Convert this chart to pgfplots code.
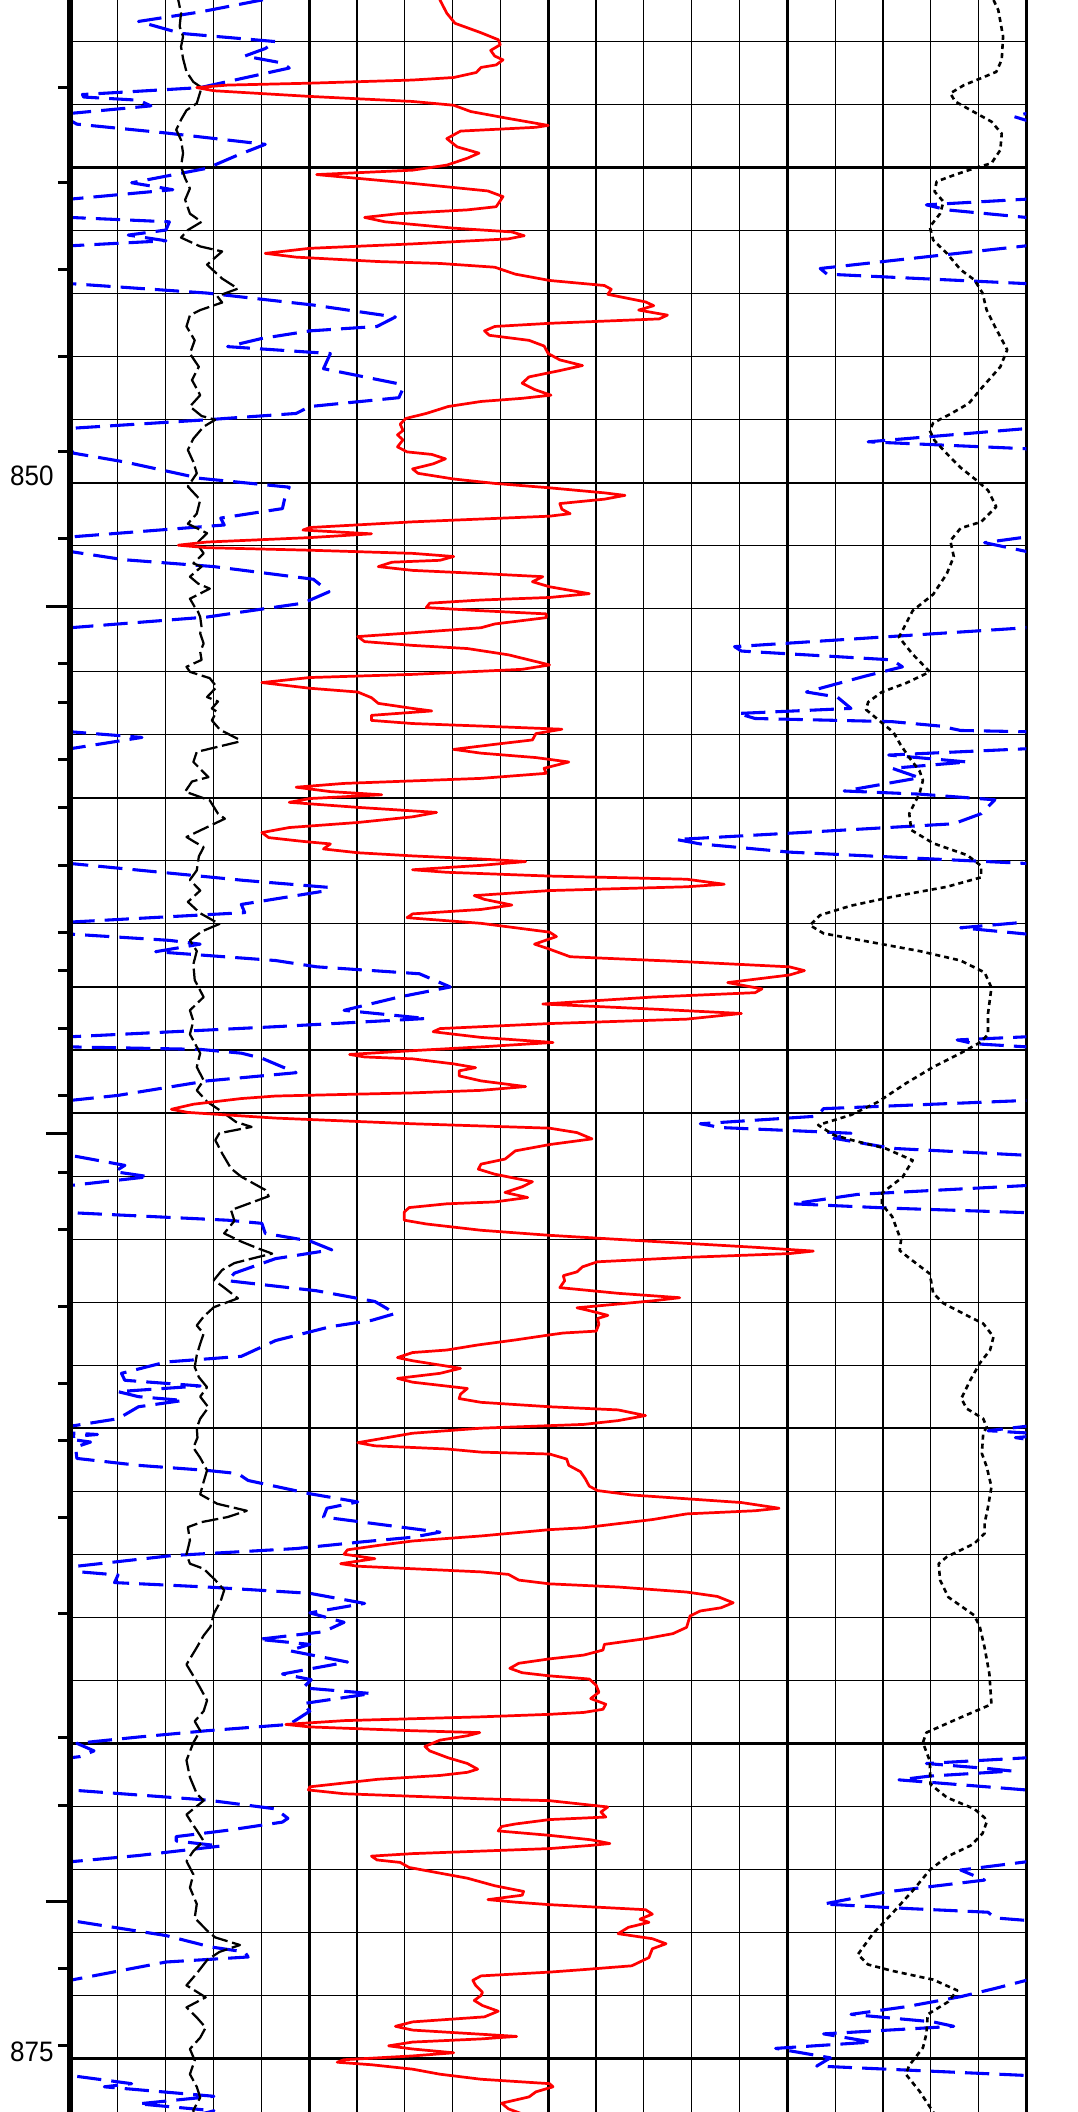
\documentclass[border=0pt]{standalone}
\usepackage{graphicx}
\usepackage{pgfplots}
\usepackage{pgfplotstable}
\pgfplotsset{compat=1.18}
\usepackage{fontspec}
\setmainfont{Liberation Sans}

\pgfplotstableread{
x d
535 842.20
540 842.34
550 842.55
562 842.71
600 842.86
625 842.97
628 843.05
614 843.14
620 843.23
632 843.29
622 843.37
600 843.41
593 843.49
560 843.57
500 843.61
350 843.66
230 843.69
185 843.73
210 843.78
350 843.87
500 843.95
560 844.01
585 844.11
640 844.22
698 844.33
680 844.36
570 844.42
550 844.54
565 844.67
597 844.77
580 844.85
550 844.96
500 845.04
420 845.08
360 845.11
420 845.17
500 845.25
610 845.37
632 845.46
622 845.62
580 845.67
480 845.73
430 845.79
460 845.86
560 845.96
645 846.02
663 846.08
640 846.13
500 846.21
350 846.28
285 846.36
330 846.42
450 846.49
540 846.52
620 846.58
650 846.69
700 846.79
780 846.87
790 846.93
785 847.01
840 847.13
852 847.19
830 847.26
872 847.34
860 847.40
700 847.47
620 847.52
605 847.59
612 847.66
670 847.74
692 847.83
698 847.95
715 848.05
748 848.14
715 848.22
670 848.32
660 848.42
678 848.52
702 848.61
660 848.66
600 848.71
552 848.79
520 848.90
490 848.98
482 849.07
486 849.17
478 849.24
486 849.32
478 849.43
492 849.51
528 849.55
548 849.62
530 849.70
500 849.78
508 849.85
560 849.94
620 850.01
700 850.08
780 850.16
810 850.20
780 850.26
715 850.33
718 850.42
730 850.49
700 850.53
500 850.62
350 850.71
340 850.75
440 850.81
350 850.87
200 850.94
158 850.99
200 851.03
350 851.07
500 851.12
560 851.17
540 851.23
470 851.26
450 851.33
500 851.39
600 851.44
690 851.49
675 851.57
700 851.65
758 851.76
700 851.82
600 851.86
525 851.91
520 851.98
600 852.03
695 852.08
695 852.14
620 852.24
600 852.30
500 852.38
420 852.44
430 852.52
500 852.58
580 852.63
640 852.73
700 852.89
660 852.96
500 853.04
350 853.09
280 853.17
350 853.26
420 853.32
440 853.41
450 853.50
500 853.58
528 853.62
440 853.69
440 853.77
500 853.82
600 853.86
718 853.91
680 853.98
675 854.08
620 854.15
560 854.23
600 854.29
680 854.36
728 854.43
692 854.53
695 854.61
600 854.69
400 854.77
330 854.83
380 854.90
455 854.95
350 855.01
320 855.07
420 855.15
535 855.23
500 855.30
420 855.39
320 855.47
280 855.55
290 855.63
340 855.69
380 855.73
370 855.81
420 855.87
500 855.92
600 855.97
665 856.01
600 856.07
500 856.14
550 856.18
700 856.24
900 856.29
955 856.37
900 856.41
700 856.47
590 856.55
605 856.61
645 856.70
600 856.77
500 856.84
492 856.90
600 856.99
700 857.13
710 857.20
678 857.32
700 857.40
730 857.52
900 857.60
1050 857.68
1072 857.74
1050 857.81
960 857.93
1010 858.03
1000 858.09
850 858.16
690 858.27
850 858.35
980 858.42
900 858.51
700 858.58
540 858.66
530 858.71
600 858.80
705 858.88
600 858.95
500 859.01
408 859.07
430 859.11
500 859.14
560 859.22
592 859.28
568 859.33
568 859.41
600 859.49
665 859.58
600 859.64
500 859.68
300 859.73
250 859.77
180 859.86
148 859.94
172 859.99
300 860.08
500 860.17
700 860.24
740 860.31
762 860.41
700 860.50
650 860.60
635 860.73
600 860.81
596 860.89
620 860.97
675 861.09
660 861.17
635 861.26
668 861.34
620 861.41
550 861.44
495 861.50
488 861.57
488 861.70
520 861.76
600 861.86
700 861.94
840 862.03
1000 862.13
1085 862.19
1050 862.23
900 862.29
770 862.36
748 862.44
740 862.52
720 862.58
722 862.66
715 862.77
800 862.86
890 862.93
850 862.98
740 863.09
760 863.14
785 863.21
770 863.26
772 863.35
768 863.46
720 863.49
700 863.52
650 863.60
595 863.68
550 863.76
500 863.80
478 863.88
500 863.93
570 864.05
540 864.13
478 864.21
500 864.27
580 864.37
570 864.46
568 864.53
600 864.59
700 864.66
800 864.71
840 864.80
800 864.88
750 864.94
600 865.00
500 865.08
420 865.23
445 865.28
550 865.33
600 865.38
700 865.41
725 865.49
728 865.59
745 865.69
752 865.80
758 865.92
770 865.99
820 866.06
900 866.12
980 866.18
1035 866.27
1000 866.31
900 866.36
850 866.45
750 866.58
700 866.61
600 866.71
500 866.79
450 866.86
405 866.93
400 867.00
445 867.07
395 867.15
420 867.19
500 867.23
600 867.28
640 867.32
655 867.41
700 867.47
800 867.52
900 867.60
945 867.67
968 867.77
950 867.85
920 867.90
905 867.98
900 868.16
880 868.26
840 868.34
780 868.43
778 868.52
750 868.60
700 868.66
655 868.73
642 868.81
660 868.88
700 868.93
758 868.98
768 869.08
772 869.19
760 869.29
782 869.38
778 869.46
750 869.51
700 869.54
600 869.58
500 869.61
400 869.64
315 869.70
350 869.74
500 869.80
598 869.83
580 869.88
540 869.95
518 870.05
525 870.12
552 870.23
580 870.32
595 870.41
580 870.46
540 870.51
450 870.57
350 870.69
348 870.74
400 870.80
500 870.84
600 870.88
700 870.91
785 871.01
775 871.09
782 871.17
700 871.21
650 871.28
630 871.32
625 871.39
700 871.46
760 871.53
788 871.59
760 871.62
700 871.67
600 871.71
500 871.75
440 871.79
448 871.85
482 871.89
495 871.97
550 872.08
580 872.14
620 872.26
662 872.35
660 872.41
610 872.48
650 872.52
700 872.56
840 872.64
850 872.71
832 872.79
845 872.84
815 872.92
800 873.02
850 873.10
870 873.18
850 873.26
845 873.40
820 873.53
750 873.59
700 873.63
600 873.69
588 873.76
592 873.84
602 873.95
600 874.00
590 874.08
602 874.16
625 874.25
605 874.34
500 874.42
475 874.49
500 874.55
652 874.65
600 874.69
500 874.74
465 874.80
500 874.85
560 874.91
500 874.96
400 875.02
390 875.06
440 875.10
500 875.17
540 875.25
600 875.33
700 875.40
705 875.45
680 875.53
670 875.61
630 875.71
640 875.80
660 875.88
690 876.00
}\redtab

\pgfplotstableread{
x d
158 842.20
158 842.34
162 842.55
160 842.76
165 842.92
162 843.08
165 843.27
170 843.48
180 843.64
192 843.73
185 843.98
170 844.09
162 844.24
155 844.40
162 844.56
165 844.77
162 844.98
168 845.17
175 845.33
168 845.51
175 845.73
192 845.86
172 845.99
162 846.11
190 846.25
222 846.33
200 846.54
222 846.76
245 846.92
215 847.04
222 847.14
190 847.26
175 847.34
170 847.52
182 847.74
175 847.95
188 848.16
178 848.37
190 848.61
175 848.79
192 848.94
212 849.00
195 849.11
180 849.30
172 849.48
180 849.67
185 849.85
172 850.06
190 850.27
185 850.49
172 850.65
200 850.80
185 850.96
195 851.12
180 851.28
192 851.33
175 851.49
187 851.60
204 851.68
175 851.84
182 851.97
187 852.05
190 852.13
192 852.29
190 852.39
195 852.55
190 852.68
192 852.81
170 852.92
175 853.00
204 853.10
214 853.24
200 853.40
216 853.47
207 853.58
214 853.63
207 853.77
219 853.92
248 854.08
246 854.11
185 854.27
180 854.43
202 854.67
178 854.74
168 854.90
204 855.04
216 855.25
226 855.33
170 855.62
182 855.70
195 855.78
188 855.93
185 856.15
175 856.30
190 856.47
172 856.65
190 856.83
218 857.00
192 857.12
175 857.26
185 857.43
180 857.64
182 857.89
195 858.16
175 858.37
180 858.54
175 858.75
190 859.05
185 859.27
195 859.48
185 859.64
200 859.82
222 859.98
242 860.14
265 860.22
218 860.32
212 860.43
222 860.64
235 860.88
250 861.01
285 861.22
290 861.32
260 861.44
235 861.54
240 861.71
225 861.91
250 862.04
275 862.15
295 862.23
265 862.31
240 862.38
222 862.49
210 862.65
225 862.77
245 862.94
210 863.08
195 863.23
185 863.37
195 863.50
190 863.66
185 863.84
182 864.03
188 864.19
200 864.35
190 864.50
202 864.67
190 864.85
185 864.99
186 865.15
180 865.31
190 865.47
200 865.67
195 865.85
190 866.05
215 866.20
258 866.31
230 866.41
192 866.49
172 866.57
175 866.78
170 867.00
175 867.15
195 867.23
212 867.41
225 867.57
220 867.74
210 867.94
205 868.15
195 868.29
185 868.48
170 868.75
180 868.93
190 869.12
200 869.32
195 869.49
182 869.65
190 869.80
180 869.99
170 870.27
175 870.54
185 870.80
195 870.91
170 871.13
178 871.27
185 871.38
195 871.55
180 871.71
170 871.87
180 872.08
175 872.29
185 872.55
182 872.77
200 872.97
212 873.08
248 873.20
218 873.31
200 873.44
185 873.65
170 873.84
198 874.03
170 874.19
185 874.35
198 874.51
190 874.67
175 874.85
182 875.03
175 875.25
185 875.45
190 875.62
180 875.82
182 876.00
}\sptab

\pgfplotstableread{
x d
1345 842.20
1348 842.34
1355 842.50
1362 842.92
1360 843.29
1352 843.48
1330 843.58
1305 843.69
1285 843.82
1292 843.95
1315 844.09
1345 844.27
1360 844.46
1358 844.72
1345 844.93
1320 845.01
1290 845.12
1265 845.22
1262 845.38
1275 845.54
1270 845.73
1255 845.94
1260 846.15
1280 846.36
1300 846.62
1320 846.78
1332 846.99
1338 847.26
1350 847.52
1368 847.89
1358 848.16
1332 848.48
1312 848.74
1285 848.91
1260 849.05
1255 849.17
1262 849.33
1280 849.54
1300 849.76
1322 849.95
1340 850.12
1352 850.38
1330 850.62
1300 850.72
1285 850.92
1290 851.17
1280 851.44
1260 851.77
1230 852.03
1210 852.45
1230 852.72
1255 853.00
1220 853.18
1185 853.32
1165 853.48
1162 853.60
1182 853.78
1202 853.96
1212 854.15
1225 854.36
1240 854.57
1245 854.72
1240 854.93
1225 855.25
1228 855.51
1260 855.72
1310 855.91
1330 856.08
1330 856.26
1280 856.41
1200 856.57
1140 856.71
1095 856.86
1080 857.02
1100 857.15
1160 857.27
1240 857.43
1300 857.58
1335 857.77
1345 858.01
1340 858.42
1340 858.75
1330 858.87
1300 859.05
1260 859.27
1220 859.53
1180 859.82
1140 860.03
1092 860.19
1115 860.35
1145 860.44
1190 860.56
1230 860.75
1215 861.02
1185 861.27
1185 861.45
1200 861.64
1213 862.02
1211 862.18
1226 862.31
1255 862.55
1260 862.86
1275 863.02
1318 863.26
1333 863.34
1348 863.55
1343 863.76
1328 863.97
1314 864.24
1301 864.53
1309 864.69
1333 864.85
1338 864.98
1333 865.08
1331 865.40
1338 865.61
1345 865.93
1340 866.25
1335 866.51
1335 866.67
1320 866.83
1280 867.04
1268 867.15
1270 867.41
1282 867.68
1320 867.97
1328 868.15
1335 868.48
1342 868.90
1345 869.38
1300 869.59
1250 869.83
1245 869.99
1255 870.28
1256 870.65
1280 870.86
1320 871.04
1335 871.18
1338 871.25
1332 871.43
1315 871.62
1280 871.80
1255 872.01
1230 872.34
1200 872.70
1172 873.02
1150 873.35
1165 873.51
1200 873.61
1260 873.75
1295 873.92
1282 874.10
1252 874.30
1250 874.61
1245 874.83
1225 875.11
1220 875.25
1240 875.52
1260 875.85
1265 876.00
}\dottab

\pgfplotstableread{
x d
330 842.20
280 842.34
190 842.53
100 842.68
162 842.87
300 843.00
285 843.11
255 843.23
310 843.34
320 843.42
190 843.73
18 843.84
20 843.88
100 843.93
118 844.02
0 844.14
-18 844.19
0 844.25
10 844.31
140 844.45
285 844.63
245 844.80
200 845.01
90 845.24
150 845.35
0 845.50
-146 845.59
-116 845.67
0 845.79
145 845.86
140 845.99
85 846.07
140 846.16
0 846.24
-301 846.60
-291 846.69
0 846.84
200 846.99
355 847.18
475 847.37
448 847.52
350 847.59
280 847.71
230 847.84
380 847.95
370 848.19
480 848.43
485 848.53
480 848.65
350 848.79
330 848.90
200 849.00
10 849.13
0 849.14
-231 849.35
0 849.46
5 849.53
80 849.67
190 849.93
320 850.07
315 850.17
310 850.41
220 850.56
225 850.67
0 850.86
-61 850.95
0 851.09
78 851.22
210 851.33
355 851.53
378 851.73
340 851.91
200 852.13
0 852.30
-426 852.60
-416 852.67
-196 852.81
-181 852.92
-236 853.07
-321 853.32
-276 853.40
-256 853.58
-421 853.66
-396 853.74
-196 853.79
-126 853.86
-96 853.93
0 853.95
105 854.04
0 854.22
-201 854.32
-86 854.43
-196 854.53
-156 854.68
-266 854.89
-156 854.94
-46 855.03
-66 855.25
-106 855.41
-346 855.56
-511 855.66
-476 855.73
-346 855.86
0 856.04
180 856.23
255 856.31
378 856.42
370 856.48
250 856.69
255 856.82
0 856.97
-96 857.06
0 857.16
145 857.26
190 857.32
125 857.44
300 857.58
360 857.68
510 857.79
555 858.00
480 858.16
400 858.37
520 858.50
300 858.63
0 858.79
-101 858.84
-76 858.90
0 858.95
190 858.99
250 859.05
280 859.13
330 859.36
200 859.49
70 859.72
0 859.80
-296 859.93
-306 860.05
-476 860.17
-446 860.23
-256 860.32
-281 860.40
-196 860.56
0 860.67
80 860.83
65 860.93
115 861.01
0 861.15
-246 861.29
-341 861.44
-196 861.51
0 861.58
230 861.70
280 861.75
285 861.91
350 862.03
382 862.17
300 862.31
240 862.54
230 862.66
360 862.82
445 862.99
475 863.18
440 863.29
380 863.39
300 863.61
250 863.86
140 863.95
75 864.13
80 864.24
190 864.33
70 864.42
100 864.50
165 864.56
100 864.66
70 864.85
0 864.97
-56 865.04
40 865.10
-16 865.15
30 865.22
8 865.30
10 865.48
100 865.59
200 865.67
245 865.72
260 865.83
350 866.04
420 866.17
375 866.27
370 866.41
540 866.65
500 866.73
430 866.80
330 866.91
150 867.02
10 867.19
15 867.28
70 867.33
65 867.45
200 867.52
350 867.62
430 867.78
350 867.93
400 868.08
370 868.23
275 868.35
350 868.43
320 868.53
405 868.71
310 868.90
352 868.99
340 869.12
440 869.21
340 869.37
350 869.49
320 869.70
200 869.80
100 869.90
10 870.00
35 870.12
15 870.21
0 870.23
-146 870.32
-56 870.40
-21 870.44
-141 870.52
-186 870.58
0 870.74
200 870.90
300 871.04
318 871.19
310 871.25
230 871.38
155 871.48
155 871.55
220 871.63
100 871.78
0 871.88
-96 872.01
-61 872.17
-206 872.36
-296 872.55
-176 872.62
-56 872.68
-46 872.77
0 872.81
140 873.05
205 873.23
255 873.31
260 873.39
140 873.47
0 873.76
-46 873.89
-96 874.02
-176 874.18
-256 874.30
-136 874.42
-106 874.49
-296 874.61
-226 874.74
-366 874.84
-286 874.99
-306 875.12
0 875.27
90 875.40
50 875.45
210 875.60
100 875.72
210 875.83
150 876.00
}\bluetab

\begin{document}
\begin{tikzpicture}
\pgfplotsset{
  logaxis/.style={
    scale only axis,
    width=14.2cm, height=31.36cm,
    xmin=0, xmax=1396,
    ymin=842.34, ymax=875.85,
    y dir=reverse,
  }
}
\begin{axis}[
  logaxis,
  name=ax,
  axis line style={draw=none},
  xtick={0,349,698,1047,1396},
  minor xtick={69.8,139.6,209.4,279.2,418.8,488.6,558.4,628.2,767.8,837.6,907.4,977.2,1116.8,1186.6,1256.4,1326.2},
  xticklabels={},
  ytick={845,850,855,860,865,870,875},
  yticklabels={,\scalebox{1}[1.08]{850},,,,,\scalebox{1}[1.08]{875}},
  minor ytick={843,844,846,847,848,849,851,852,853,854,856,857,858,859,861,862,863,864,866,867,868,869,871,872,873,874},
  grid=both,
  grid style={black},
  major x grid style={black, line width=1.35pt},
  minor x grid style={black, line width=0.5pt},
  major y grid style={black, line width=1.0pt},
  minor y grid style={black, line width=0.45pt},
  major tick length=0pt, minor tick length=0pt,
  yticklabel style={font=\fontsize{11}{13}\selectfont, xshift=-0.12cm, yshift=0.1cm},
]
\addplot[blue, line width=1.3pt, dash pattern=on 0.36cm off 0.15cm, line join=round] table[x=x, y=d] {\bluetab};
\addplot[blue, line width=1.3pt, dash pattern=on 0.36cm off 0.15cm, line join=round] table[x expr=\thisrow{x}+1396, y=d] {\bluetab};
\addplot[black, line width=0.95pt, dash pattern=on 0.25cm off 0.07cm, line join=round] table[x=x, y=d] {\sptab};
\addplot[black, line width=1.1pt, dash pattern=on 0.075cm off 0.06cm, line join=round] table[x=x, y=d] {\dottab};
\addplot[red, line width=1.15pt, line join=round] table[x=x, y=d] {\redtab};
\end{axis}

\begin{axis}[
  logaxis,
  axis x line=none, axis y line*=left,
  y axis line style={line width=2.5pt},
  xtick=\empty,
  ytick={843.73,845.24,846.61,848.00,849.51,850.89,852.87,853.48,854.39,855.15,856.07,857.13,857.74,858.66,859.72,860.94,861.85,863.07,864.29,865.20,866.42,867.94,869.91,870.99,873.58,874.79},
  yticklabels={},
  tick align=outside, major tick length=0.18cm,
  ytick style={line width=1.3pt, black},
]
\end{axis}

\begin{axis}[
  logaxis,
  axis x line=none, axis y line*=left,
  y axis line style={draw=none},
  xtick=\empty,
  ytick={851.96,860.33,872.51},
  yticklabels={},
  tick align=outside, major tick length=0.36cm,
  ytick style={line width=1.3pt, black},
]
\end{axis}

\pgfresetboundingbox
\path[use as bounding box] ([xshift=-1.04cm]ax.south west) rectangle ([xshift=0.76cm]ax.north east);
\end{tikzpicture}
\end{document}
